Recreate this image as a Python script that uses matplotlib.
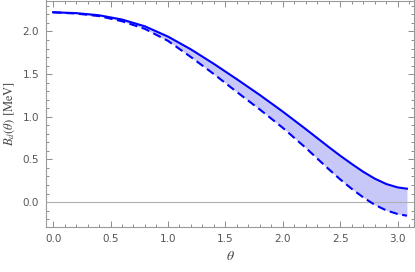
import numpy as np
import matplotlib
matplotlib.use("Agg")
import matplotlib.pyplot as plt
from matplotlib.ticker import MultipleLocator

# values
theta = [0.0, 0.2, 0.4, 0.6, 0.8, 1.0, 1.2, 1.4, 1.6, 1.8, 2.0, 2.2, 2.4, 2.5, 2.6, 2.7, 2.8, 2.9, 3.0, 3.08]
b_upper = [2.225, 2.215, 2.19, 2.14, 2.06, 1.94, 1.79, 1.62, 1.44, 1.255, 1.06, 0.855, 0.645, 0.543, 0.447, 0.355, 0.275, 0.212, 0.172, 0.157]
b_lower = [2.225, 2.21, 2.18, 2.12, 2.03, 1.89, 1.70, 1.50, 1.29, 1.085, 0.87, 0.635, 0.385, 0.265, 0.155, 0.055, -0.032, -0.097, -0.140, -0.160]

plt.rcParams['mathtext.fontset'] = 'stix'

fig = plt.figure(figsize=(4.15, 2.72), dpi=100)
ax = fig.add_axes([46 / 415, 45 / 272, 368 / 415, 226.5 / 272])

ax.fill_between(theta, b_lower, b_upper, color='#c8c8f8', lw=0)
ax.axhline(0, color='#b0b0b0', lw=0.8)
ax.plot(theta, b_upper, color='#0000ff', lw=1.5, solid_joinstyle='round')
ax.plot(theta, b_lower, color='#0000ff', lw=1.5, dashes=(4, 2.2))

ax.set_xlim(-0.0616, 3.1416)
ax.set_ylim(-0.292, 2.363)

ax.xaxis.set_major_locator(MultipleLocator(0.5))
ax.xaxis.set_minor_locator(MultipleLocator(0.1))
ax.yaxis.set_major_locator(MultipleLocator(0.5))
ax.yaxis.set_minor_locator(MultipleLocator(0.1))
ax.xaxis.set_major_formatter(plt.FuncFormatter(lambda v, p: f"{v:.1f}"))
ax.yaxis.set_major_formatter(plt.FuncFormatter(lambda v, p: f"{v:.1f}"))

ax.tick_params(which='both', direction='in', top=True, right=True,
               color='#8c8c8c', width=0.7, labelsize=7.5, labelcolor='#555555')
ax.tick_params(which='major', length=4, pad=5)
ax.tick_params(which='minor', length=2)
for s in ax.spines.values():
    s.set_color('#9a9a9a')
    s.set_linewidth(0.8)

ax.set_xlabel(r'$\theta$', fontsize=10, color='#444444', labelpad=4)
ax.set_ylabel(r'$B_d(\theta)\ [\mathrm{MeV}]$', fontsize=9, color='#444444', labelpad=4)

fig.savefig('out.png', dpi=100)
